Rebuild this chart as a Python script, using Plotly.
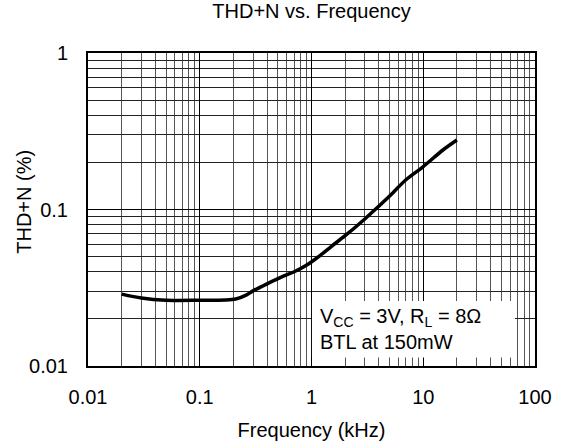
import plotly.graph_objects as go

# Data
freq_khz = [0.02, 0.03, 0.05, 0.1, 0.17, 0.21, 0.26, 0.3, 0.4, 0.56, 0.7, 0.9, 1.2, 1.5, 2, 3, 4, 5, 7, 10, 15, 20]
thd_pct = [0.0288, 0.0272, 0.0263, 0.0263, 0.0264, 0.0268, 0.0284, 0.0302, 0.0335, 0.0375, 0.040, 0.044,
           0.051, 0.058, 0.068, 0.087, 0.105, 0.122, 0.155, 0.188, 0.24, 0.278]

x_ticks = [0.01, 0.1, 1, 10, 100]
x_ticktext = ["0.01", "0.1", "1", "10", "100"]
y_ticks = [0.01, 0.1, 1]
y_ticktext = ["0.01", "0.1", "1"]

FONT = "Liberation Sans, Arial, sans-serif"

fig = go.Figure()
fig.add_trace(go.Scatter(
    x=freq_khz, y=thd_pct, mode="lines",
    line=dict(color="black", width=3.5, shape="spline", smoothing=0.8),
    showlegend=False, hoverinfo="skip",
))

fig.update_layout(
    width=561, height=445,
    margin=dict(l=88, r=26, t=53, b=79, autoexpand=False),
    paper_bgcolor="white", plot_bgcolor="white",
    font=dict(family=FONT, size=20, color="black"),
    title=dict(text="THD+N vs. Frequency", x=0.5, xref="paper", xanchor="center",
               y=0.992, yref="container", yanchor="top",
               font=dict(family=FONT, size=20, color="black")),
)

fig.update_xaxes(
    type="log", range=[-2, 2], automargin=False,
    tickvals=x_ticks, ticktext=x_ticktext, ticks="", ticklabelstandoff=12,
    showgrid=True, gridcolor="black", gridwidth=1,
    minor=dict(dtick="D1", showgrid=True, gridcolor="#555555", gridwidth=1, ticks=""),
    showline=True, linecolor="black", linewidth=2, mirror=True,
    zeroline=False,
    title=dict(text="Frequency (kHz)", standoff=16, font=dict(family=FONT, size=20)),
    tickfont=dict(family=FONT, size=20),
)

fig.update_yaxes(
    type="log", range=[-2, 0], automargin=False,
    tickvals=y_ticks, ticktext=y_ticktext, ticks="", ticklabelstandoff=14,
    showgrid=True, gridcolor="black", gridwidth=1,
    minor=dict(dtick="D1", showgrid=True, gridcolor="#222222", gridwidth=1, ticks=""),
    showline=True, linecolor="black", linewidth=2, mirror=True,
    zeroline=False,
    tickfont=dict(family=FONT, size=20),
)

# Y-axis title placed as rotated text
fig.add_annotation(
    xref="paper", yref="paper", x=-0.143, y=0.525, xanchor="center", yanchor="middle",
    text="THD+N (%)", textangle=-90, showarrow=False,
    font=dict(family=FONT, size=20, color="black"),
)

# White label box
fig.add_shape(type="rect", xref="paper", yref="paper",
              x0=0.501, x1=0.955, y0=0.027, y1=0.208,
              fillcolor="white", line=dict(width=0), layer="above")
fig.add_annotation(
    xref="paper", yref="paper", x=0.515, y=0.118, xanchor="left", yanchor="middle",
    text="V<sub>CC</sub> = 3V, R<sub>L</sub> = 8Ω<br>BTL at 150mW",
    align="left", showarrow=False,
    font=dict(family=FONT, size=20, color="black"),
)

fig.write_html("out.html")
